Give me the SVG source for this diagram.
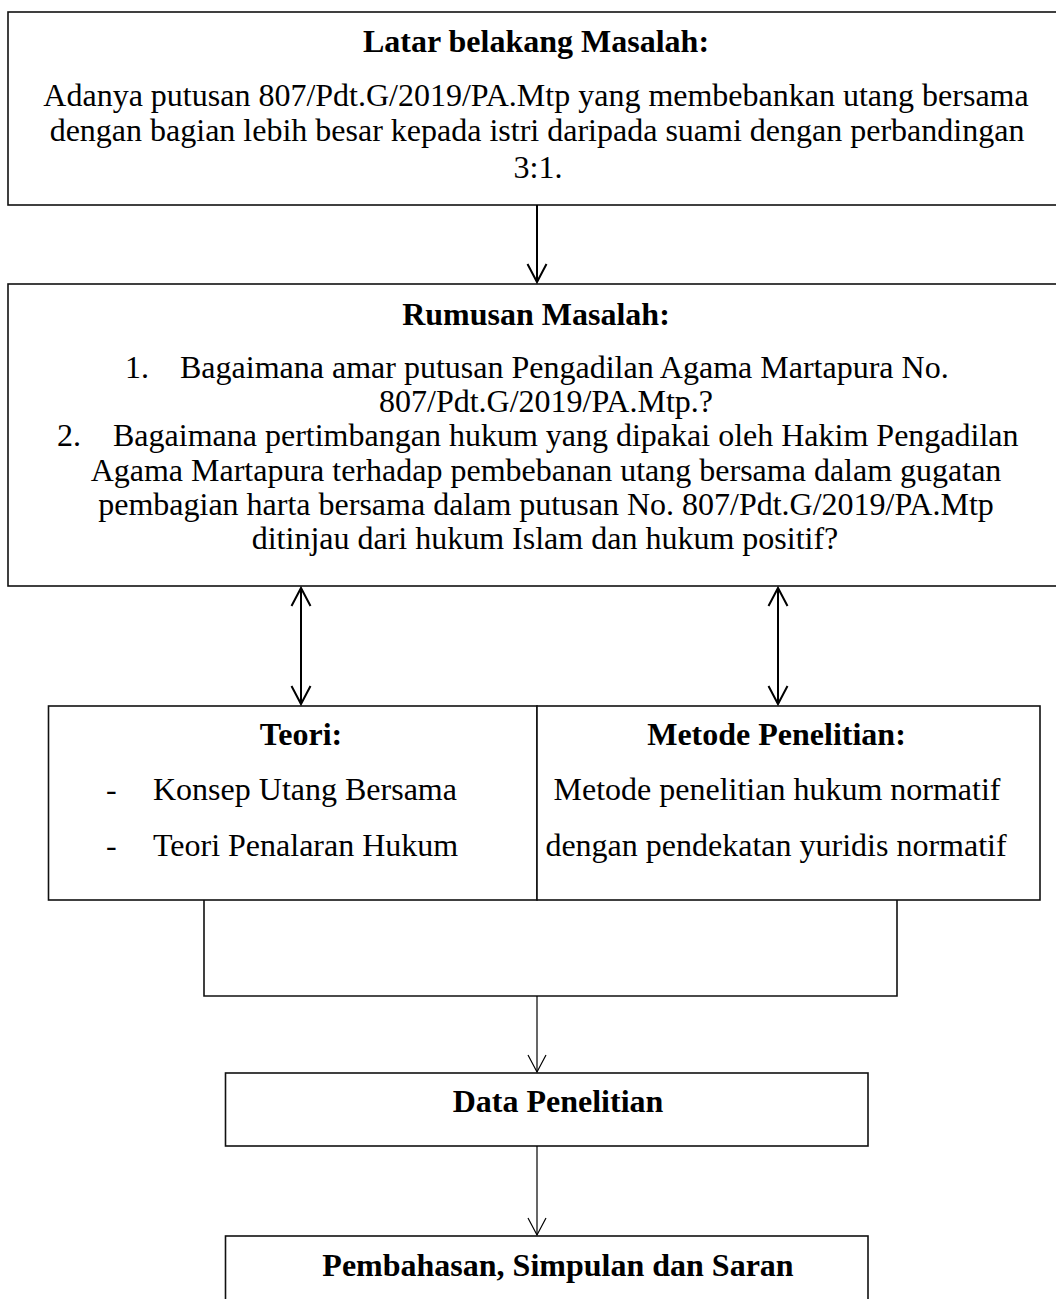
<svg xmlns="http://www.w3.org/2000/svg" width="1056" height="1299" viewBox="0 0 1056 1299">
<style>
.box{fill:#fff;stroke:#111;stroke-width:1.6}
.t{font-family:"Liberation Serif","Times New Roman",serif;font-size:32px;fill:#000}
.b{font-weight:bold}
.m{text-anchor:middle}
.c{fill:none;stroke:#000}
.thick{stroke-width:2}
.thin{stroke-width:1.2}
</style>
<defs>
<marker id="ak" markerUnits="userSpaceOnUse" markerWidth="22" markerHeight="22" viewBox="0 0 22 22" refX="19" refY="11" orient="auto-start-reverse">
<path d="M1,1.5 L19,11 L1,20.5" fill="none" stroke="#000" stroke-width="2"/>
</marker>
<marker id="an" markerUnits="userSpaceOnUse" markerWidth="22" markerHeight="22" viewBox="0 0 22 22" refX="19" refY="11" orient="auto-start-reverse">
<path d="M2,2 L19,11 L2,20" fill="none" stroke="#000" stroke-width="1.2"/>
</marker>
</defs>
<g id="latar">
<rect class="box" x="8" y="12" width="1060" height="193"/>
<text class="t b m" x="536" y="52">Latar belakang Masalah:</text>
<text class="t m" x="536" y="106">Adanya putusan 807/Pdt.G/2019/PA.Mtp yang membebankan utang bersama</text>
<text class="t m" x="537" y="141">dengan bagian lebih besar kepada istri daripada suami dengan perbandingan</text>
<text class="t m" x="538" y="178">3:1.</text>
</g>
<g id="rumusan">
<rect class="box" x="8" y="284" width="1060" height="302"/>
<text class="t b m" x="536" y="325">Rumusan Masalah:</text>
<text class="t" x="125" y="378">1.</text>
<text class="t" x="180" y="378">Bagaimana amar putusan Pengadilan Agama Martapura No.</text>
<text class="t m" x="546" y="412">807/Pdt.G/2019/PA.Mtp.?</text>
<text class="t" x="57" y="446">2.</text>
<text class="t" x="113" y="446">Bagaimana pertimbangan hukum yang dipakai oleh Hakim Pengadilan</text>
<text class="t m" x="546" y="481">Agama Martapura terhadap pembebanan utang bersama dalam gugatan</text>
<text class="t m" x="546" y="515">pembagian harta bersama dalam putusan No. 807/Pdt.G/2019/PA.Mtp</text>
<text class="t m" x="545" y="549">ditinjau dari hukum Islam dan hukum positif?</text>
</g>
<g id="teori">
<rect class="box" x="48.5" y="706" width="488.5" height="194"/>
<text class="t b m" x="301" y="745">Teori:</text>
<text class="t" x="106" y="800">-</text>
<text class="t" x="153" y="800">Konsep Utang Bersama</text>
<text class="t" x="106" y="856">-</text>
<text class="t" x="153" y="856">Teori Penalaran Hukum</text>
</g>
<g id="metode">
<rect class="box" x="537" y="706" width="503" height="194"/>
<text class="t b m" x="776.5" y="745">Metode Penelitian:</text>
<text class="t m" x="777" y="800">Metode penelitian hukum normatif</text>
<text class="t m" x="776" y="856">dengan pendekatan yuridis normatif</text>
</g>
<g id="gabungan">
<path class="box" d="M204,900 V996 H897 V900" style="fill:none"/>
</g>
<g id="data">
<rect class="box" x="225.5" y="1073" width="642.5" height="73"/>
<text class="t b m" x="558" y="1112">Data Penelitian</text>
</g>
<g id="pembahasan">
<rect class="box" x="225.5" y="1236" width="642.5" height="100"/>
<text class="t b m" x="558" y="1276">Pembahasan, Simpulan dan Saran</text>
</g>
<g id="connectors">
<line class="c thick" x1="537" y1="205" x2="537" y2="282" marker-end="url(#ak)"/>
<line class="c thick" x1="301" y1="588" x2="301" y2="704" marker-start="url(#ak)" marker-end="url(#ak)"/>
<line class="c thick" x1="778" y1="588" x2="778" y2="704" marker-start="url(#ak)" marker-end="url(#ak)"/>
<line class="c thin" x1="537" y1="996" x2="537" y2="1072" marker-end="url(#an)"/>
<line class="c thin" x1="537" y1="1146" x2="537" y2="1235" marker-end="url(#an)"/>
</g>
</svg>
